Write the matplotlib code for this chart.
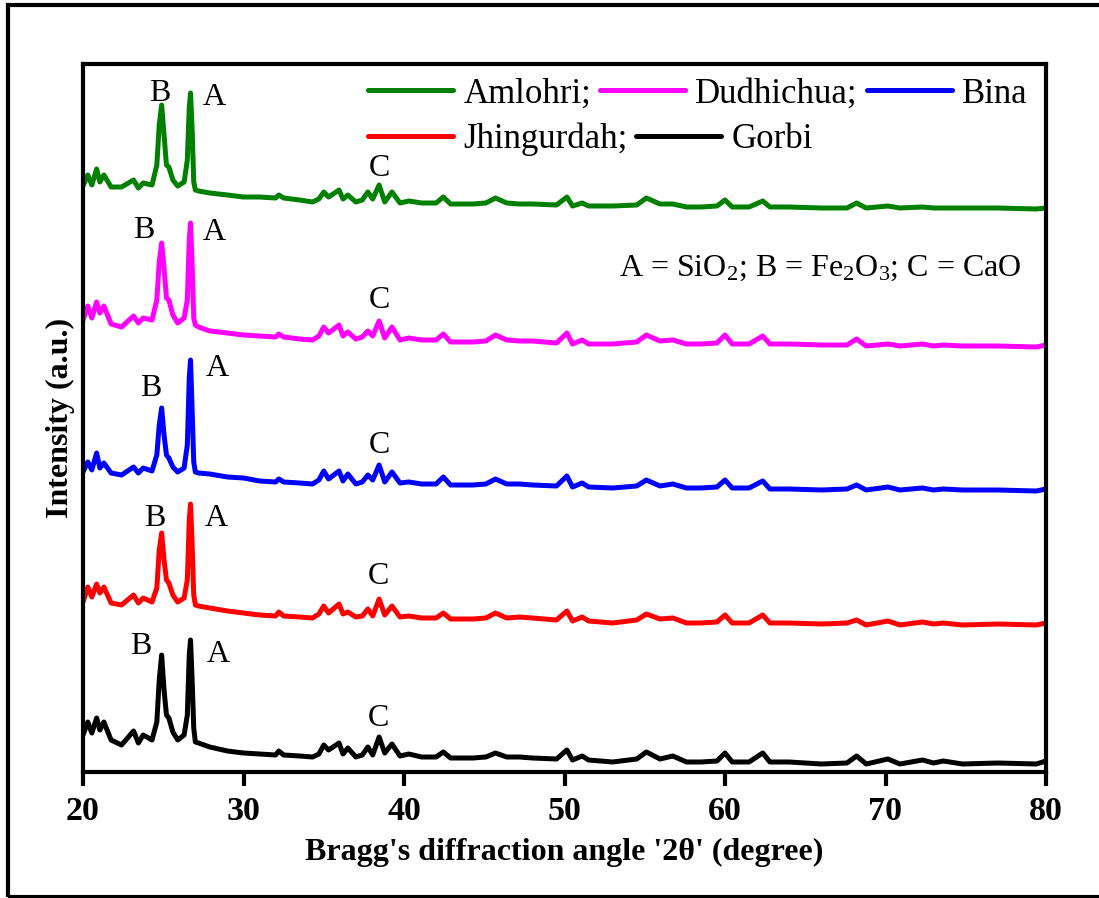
import numpy as np
import matplotlib
matplotlib.use("Agg")
import matplotlib.pyplot as plt
from matplotlib.lines import Line2D
from matplotlib.patches import Rectangle

plt.rcParams['font.family'] = 'serif'
plt.rcParams['font.serif'] = ['Liberation Serif', 'DejaVu Serif']
plt.rcParams['mathtext.fontset'] = 'custom'
plt.rcParams['mathtext.rm'] = 'Liberation Serif'
plt.rcParams['mathtext.it'] = 'Liberation Serif:italic'
plt.rcParams['mathtext.bf'] = 'Liberation Serif:bold'

# ---------------- data ----------------
two_theta = [20.0, 20.3, 20.55, 20.85, 21.05, 21.3, 21.75, 22.4, 23.15, 23.45,
             23.75, 24.3, 24.6, 24.75, 24.9, 25.05, 25.2, 25.35, 25.6, 25.9,
             26.3, 26.5, 26.62, 26.7, 26.8, 26.9, 27.0, 27.2, 27.9, 29.0,
             30.0, 31.0, 32.0, 32.2, 32.5, 33.5, 34.3, 34.7, 35.0, 35.3,
             35.95, 36.2, 36.5, 37.0, 37.4, 37.75, 38.05, 38.45, 38.8, 39.25,
             39.75, 40.3, 41.1, 42.0, 42.45, 42.9, 44.3, 45.1, 45.7, 46.4,
             47.2, 48.0, 49.5, 50.15, 50.5, 51.1, 51.5, 53.0, 54.5, 55.1,
             55.95, 56.75, 57.6, 58.5, 59.5, 60.0, 60.45, 61.5, 62.35, 62.8,
             64.0, 66.0, 67.6, 68.2, 68.8, 70.15, 70.9, 72.3, 73.0, 73.6,
             74.8, 77.0, 79.4, 80.0]

amlohri = [614, 625, 615, 631, 618, 625, 613, 613, 620, 612,
           617, 615, 635, 675, 695, 665, 635, 633, 620, 614,
           618, 640, 692, 707, 670, 618, 610, 609, 607, 605,
           603, 603, 602, 605, 602, 600, 598, 601, 608, 603,
           610, 601, 605, 598, 600, 608, 601, 615, 598, 608,
           597, 599, 597, 597, 603, 596, 596, 597, 602, 597,
           596, 596, 595, 603, 594, 597, 594, 594, 595, 602,
           596, 596, 593, 593, 594, 600, 593, 593, 599, 593,
           593, 592, 592, 597, 592, 594, 592, 593, 592, 592,
           592, 592, 591, 592]

dudhichua = [480, 494, 482, 498, 487, 494, 476, 473, 484, 477,
             482, 480, 500, 538, 557, 532, 502, 500, 485, 477,
             482, 500, 560, 577, 535, 482, 475, 473, 469, 467,
             465, 464, 463, 466, 463, 461, 460, 464, 473, 467,
             475, 464, 468, 461, 463, 469, 464, 479, 462, 473,
             460, 462, 460, 460, 466, 458, 458, 459, 465, 460,
             459, 459, 457, 467, 456, 460, 456, 456, 458, 465,
             459, 460, 456, 456, 457, 465, 456, 456, 464, 456,
             456, 455, 455, 461, 454, 456, 454, 456, 454, 455,
             454, 454, 453, 455]

bina = [328, 338, 330, 347, 332, 337, 327, 325, 333, 327,
        332, 329, 345, 375, 392, 365, 345, 342, 333, 328,
        332, 355, 422, 440, 390, 338, 328, 327, 326, 323,
        322, 319, 318, 321, 318, 317, 316, 320, 329, 321,
        329, 319, 326, 316, 318, 325, 320, 335, 318, 328,
        317, 318, 316, 316, 323, 315, 315, 316, 321, 316,
        316, 315, 314, 324, 313, 317, 313, 312, 314, 320,
        314, 316, 312, 312, 313, 320, 312, 312, 319, 311,
        311, 310, 311, 315, 310, 313, 310, 312, 310, 311,
        310, 310, 309, 311]

jhingurdah = [198, 213, 203, 216, 207, 213, 197, 195, 205, 197,
              202, 198, 212, 250, 267, 240, 220, 217, 205, 198,
              202, 220, 280, 296, 255, 205, 195, 194, 192, 189,
              187, 185, 184, 188, 184, 183, 182, 186, 194, 187,
              196, 186, 188, 183, 184, 191, 184, 201, 185, 194,
              183, 184, 182, 182, 187, 181, 181, 182, 187, 182,
              183, 182, 180, 189, 179, 183, 179, 177, 180, 186,
              181, 182, 177, 177, 178, 185, 177, 177, 185, 177,
              177, 176, 177, 180, 175, 179, 175, 178, 176, 177,
              175, 176, 175, 177]

gorbi = [65, 78, 67, 82, 70, 78, 60, 55, 69, 57,
         65, 60, 78, 120, 145, 110, 85, 82, 68, 60,
         65, 85, 145, 160, 120, 72, 58, 57, 53, 49,
         47, 46, 45, 49, 45, 44, 43, 46, 55, 50,
         57, 46, 52, 43, 45, 53, 45, 63, 47, 56,
         44, 46, 43, 43, 48, 42, 42, 43, 47, 43,
         43, 42, 41, 50, 40, 44, 40, 38, 41, 48,
         41, 44, 38, 38, 39, 47, 38, 38, 47, 38,
         38, 36, 37, 44, 36, 41, 36, 40, 37, 39,
         36, 37, 36, 39]

series_names = ["Amlohri", "Dudhichua", "Bina", "Jhingurdah", "Gorbi"]
series_values = [amlohri, dudhichua, bina, jhingurdah, gorbi]
series_colors = ["#008000", "#FF00FF", "#0000FF", "#FF0000", "#000000"]

# peak-label annotations (letter, x, y) for each pattern
peak_labels = {
    "Amlohri":    [("B", 24.8, 707), ("A", 28.2, 703), ("C", 38.5, 632)],
    "Dudhichua":  [("B", 23.8, 570), ("A", 28.2, 568), ("C", 38.5, 500)],
    "Bina":       [("B", 24.2, 412), ("A", 28.35, 432), ("C", 38.5, 355)],
    "Jhingurdah": [("B", 24.5, 282), ("A", 28.3, 282), ("C", 38.4, 223)],
    "Gorbi":      [("B", 23.6, 154), ("A", 28.4, 145), ("C", 38.4, 82)],
}

x_ticks = [20, 30, 40, 50, 60, 70, 80]

# ---------------- figure ----------------
W, H = 1099, 898
fig = plt.figure(figsize=(W / 100, H / 100), dpi=100)
ax = fig.add_axes([83 / W, (H - 772) / H, (1046 - 83) / W, (772 - 64) / H])

for name, vals, col in zip(series_names, series_values, series_colors):
    ax.plot(two_theta, vals, color=col, lw=3.6, solid_joinstyle='round',
            solid_capstyle='round', label=name)
    for letter, lx, ly in peak_labels[name]:
        ax.text(lx, ly, letter, fontsize=23, ha='center', va='center')

ax.set_xlim(20, 80)
ax.set_ylim(28, 736)
ax.set_xticks(x_ticks)
ax.set_xticklabels([str(t) for t in x_ticks], fontsize=24.5, fontweight='bold')
ax.tick_params(axis='x', direction='out', length=10, width=3, pad=7)
ax.tick_params(axis='y', left=False, labelleft=False)
for s in ax.spines.values():
    s.set_linewidth(3)

ax.set_xlabel("Bragg's diffraction angle '2\u03b8' (degree)", fontsize=23,
              fontweight='bold', labelpad=8)
ax.set_ylabel("Intensity (a.u.)", fontsize=23, fontweight='bold', labelpad=6)

# legend in two rows (text-flow layout)
handles = [Line2D([], [], color=c, lw=3.6, solid_capstyle='round') for c in series_colors]
row1 = ax.legend(handles[:3], ["Amlohri;", "Dudhichua;", "Bina"], ncol=3,
                 loc='center left', bbox_to_anchor=((368 - 83) / 963, (772 - 94) / 708),
                 frameon=False, fontsize=25, borderpad=0, borderaxespad=0,
                 handlelength=2.45, handletextpad=0.3, columnspacing=0.25)
ax.add_artist(row1)
ax.legend(handles[3:], ["Jhingurdah;", "Gorbi"], ncol=2,
          loc='center left', bbox_to_anchor=((368 - 83) / 963, (772 - 139) / 708),
          frameon=False, fontsize=25, borderpad=0, borderaxespad=0,
          handlelength=2.45, handletextpad=0.3, columnspacing=0.25)

ax.text(0.975, (772 - 268) / 708,
        r"A = SiO$_2$; B = Fe$_2$O$_3$; C = CaO",
        transform=ax.transAxes, fontsize=23, ha='right', va='center')

# outer frame
fig.patches.append(Rectangle((8 / W, 1 / H), 1.2, (H - 6) / H, transform=fig.transFigure,
                             fill=False, lw=3, edgecolor='black', clip_on=False))

fig.savefig("out.png", dpi=100)
